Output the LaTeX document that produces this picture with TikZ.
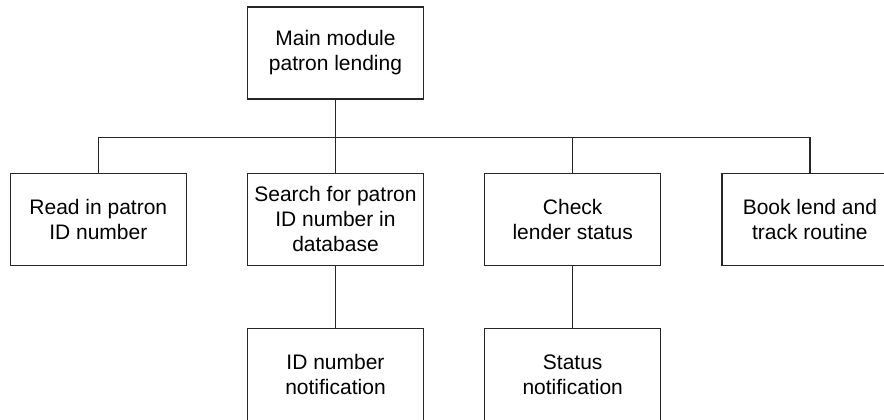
\documentclass[tikz,border=0pt]{standalone}
\usepackage{fontspec}
\setmainfont{Liberation Sans}
\usepackage{tikz}
\usetikzlibrary{positioning}

\begin{document}
\begin{tikzpicture}[
    node distance=30pt,
    module/.style={rectangle, draw=black!85, line width=0.6pt, text centered, align=center, minimum width=88pt, minimum height=46pt, inner sep=1pt, font=\fontsize{10.5}{12.5}\selectfont},
    link/.style={draw=black!85, line width=0.6pt}
]
\useasboundingbox (0,0) rectangle (442pt,-209.5pt);

% Main module
\node[module] (main) at (167.75pt,-26.5pt) {Main module\\patron lending};

% Sub modules
\node[module] (search) [below=36.5pt of main] {Search for patron\\ID number in\\database};
\node[module] (read) [left=of search] {Read in patron\\ID number};
\node[module] (check) [right=of search] {Check\\lender status};
\node[module] (book) [right=of check] {Book lend and\\track routine};

% Notifications
\node[module] (idnote) [below=31pt of search] {ID number\\notification};
\node[module] (statusnote) [below=31pt of check] {Status\\notification};

% Connections
\coordinate[below=19pt of main] (bus);
\draw[link] (main) -- (search);
\draw[link] (read.north) |- (bus) -| (book.north);
\draw[link] (check.north) -- (check.north |- bus);
\draw[link] (search) -- (idnote);
\draw[link] (check) -- (statusnote);

\end{tikzpicture}
\end{document}
